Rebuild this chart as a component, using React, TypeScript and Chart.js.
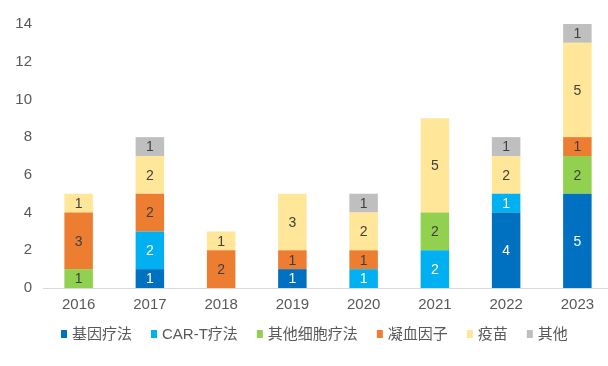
import React, { useEffect, useRef } from "react";
import { Chart, registerables } from "chart.js";

Chart.register(...registerables);

const years = ["2016", "2017", "2018", "2019", "2020", "2021", "2022", "2023"];
const geneTherapy = [null, 1, null, 1, null, null, 4, 5];
const carT = [null, 2, null, null, 1, 2, 1, null];
const otherCell = [1, null, null, null, null, 2, null, 2];
const coagulation = [3, 2, 2, 1, 1, null, null, 1];
const vaccine = [1, 2, 1, 3, 2, 5, 2, 5];
const others = [null, 1, null, null, 1, null, 1, 1];
const yTicks = [0, 2, 4, 6, 8, 10, 12, 14];

const seriesNames = ["基因疗法", "CAR-T疗法", "其他细胞疗法", "凝血因子", "疫苗", "其他"];
const seriesColors = ["#0070C0", "#00B0F0", "#92D050", "#ED7D31", "#FFE699", "#BFBFBF"];
const labelColors = ["#FFFFFF", "#FFFFFF", "#404040", "#404040", "#404040", "#404040"];
const seriesData = [geneTherapy, carT, otherCell, coagulation, vaccine, others];

const FONT = '"Liberation Sans", "Noto Sans CJK SC", Arial, sans-serif';

const dataLabelPlugin = {
  id: "stackLabels",
  afterDatasetsDraw(chart: any) {
    const ctx = chart.ctx;
    ctx.save();
    ctx.font = `14px ${FONT}`;
    ctx.textAlign = "center";
    ctx.textBaseline = "middle";
    chart.data.datasets.forEach((ds: any, i: number) => {
      const meta = chart.getDatasetMeta(i);
      meta.data.forEach((el: any, j: number) => {
        const v = ds.data[j];
        if (v == null || v === 0) return;
        ctx.fillStyle = labelColors[i];
        ctx.fillText(String(v), el.x, (el.y + el.base) / 2 + 1);
      });
    });
    ctx.restore();
  },
};

const legendPlugin = {
  id: "customLegend",
  afterDraw(chart: any) {
    const ctx = chart.ctx;
    ctx.save();
    ctx.font = `15px ${FONT}`;
    ctx.textBaseline = "middle";
    ctx.textAlign = "left";
    let x = 61;
    const y = 334;
    seriesNames.forEach((name, i) => {
      ctx.fillStyle = seriesColors[i];
      ctx.fillRect(x, y - 4, 6, 8);
      x += 11;
      ctx.fillStyle = "#595959";
      ctx.fillText(name, x, y + 1);
      x += ctx.measureText(name).width + 19;
    });
    ctx.restore();
  },
};

export default function App() {
  const ref = useRef<HTMLCanvasElement>(null);
  useEffect(() => {
    if (!ref.current) return;
    const chart = new Chart(ref.current, {
      type: "bar",
      data: {
        labels: years,
        datasets: seriesNames.map((name, i) => ({
          label: name,
          data: seriesData[i] as any,
          backgroundColor: seriesColors[i],
          borderWidth: 0,
          barPercentage: 0.8,
          categoryPercentage: 0.5,
        })),
      },
      options: {
        animation: false,
        responsive: false,
        devicePixelRatio: 1,
        layout: { padding: { top: 24, right: 7, left: 0, bottom: 0 } },
        plugins: {
          legend: { display: false },
          tooltip: { enabled: false },
        },
        scales: {
          x: {
            stacked: true,
            grid: { display: false, drawTicks: false },
            border: { display: true, color: "#D9D9D9", width: 1 },
            ticks: { color: "#595959", font: { size: 15, family: FONT }, padding: 8 },
            afterFit: (s: any) => {
              s.height = 78;
            },
          },
          y: {
            stacked: true,
            min: 0,
            max: 14,
            afterBuildTicks: (s: any) => {
              s.ticks = yTicks.map((v) => ({ value: v }));
            },
            grid: { display: false, drawTicks: false },
            border: { display: false },
            ticks: { color: "#595959", font: { size: 15, family: FONT }, padding: 11 },
            afterFit: (s: any) => {
              s.width = 43;
            },
          },
        },
      },
      plugins: [dataLabelPlugin, legendPlugin],
    });
    return () => chart.destroy();
  }, []);
  return (
    <div style={{ position: "fixed", left: 0, top: 0, width: 608, height: 366, overflow: "hidden", background: "#fff" }}>
      <canvas ref={ref} width={620} height={366} style={{ display: "block" }} />
    </div>
  );
}
